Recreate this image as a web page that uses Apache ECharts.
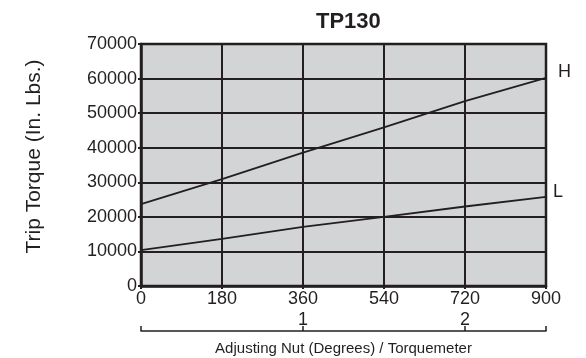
<!DOCTYPE html>
<html>
<head>
<meta charset="utf-8">
<script src="https://cdn.jsdelivr.net/npm/echarts@6.0.0/dist/echarts.min.js"></script>
<style>
  html, body { margin: 0; padding: 0; background: #fff; }
  #chart { width: 586px; height: 358px; }
</style>
</head>
<body>
<div id="chart"></div>
<script>
// x positions (degrees of the adjusting nut)
var degrees = [0, 180, 360, 540, 720, 900];
// trip torque, in. lbs.
var highSetting = [23700, 30900, 38550, 45900, 53500, 60200];
var lowSetting = [10400, 13600, 17100, 20000, 23000, 25800];
// torquemeter marks on the lower scale
var meterTicks = [360, 720];
var meterLabels = ['1', '2'];

var ink = '#231f20';
var font = '"Liberation Sans", Arial, Helvetica, sans-serif';

function pairs(xs, ys) {
	var out = [];
	for (var i = 0; i < xs.length; i++) out.push([xs[i], ys[i]]);
	return out;
}

var myChart = echarts.init(document.getElementById('chart'));
var option = {
	animation: false,
	textStyle: { fontFamily: font, color: ink },
	title: {
		text: 'TP130',
		left: 311,
		top: 6,
		textStyle: { fontFamily: font, fontSize: 22, fontWeight: 'bold', color: ink }
	},
	grid: {
		left: 141, right: 40, top: 44, bottom: 72,
		show: true,
		backgroundColor: '#d3d4d6',
		borderColor: ink,
		borderWidth: 2.5,
		outerBoundsMode: 'none'
	},
	xAxis: [{
		type: 'value',
		min: 0, max: 900, interval: 180,
		axisLine: { show: true, lineStyle: { color: ink, width: 2.5 } },
		axisTick: { show: true, length: 3, lineStyle: { color: ink, width: 2 } },
		axisLabel: { color: ink, fontSize: 18, margin: 4, fontFamily: font },
		splitLine: { show: true, lineStyle: { color: ink, width: 2 } }
	}, {
		// bracket scale underneath: torquemeter turns
		type: 'value',
		position: 'bottom',
		offset: 45,
		min: 0, max: 900,
		axisLine: { show: true, lineStyle: { color: ink, width: 1.5 } },
		axisTick: {
			show: true, inside: true, length: 5,
			customValues: [0].concat(meterTicks).concat([900]),
			lineStyle: { color: ink, width: 1.5 }
		},
		axisLabel: {
			show: true, inside: true, margin: 2,
			customValues: meterTicks,
			formatter: function (v) { return meterLabels[meterTicks.indexOf(v)]; },
			color: ink, fontSize: 18, fontFamily: font
		},
		splitLine: { show: false },
		name: 'Adjusting Nut (Degrees) / Torquemeter',
		nameLocation: 'middle',
		nameGap: 10,
		nameTextStyle: { fontSize: 15, color: ink, fontFamily: font, verticalAlign: 'top' }
	}],
	yAxis: {
		type: 'value',
		min: 0, max: 70000, interval: 10000,
		name: 'Trip Torque (In. Lbs.)',
		nameLocation: 'middle',
		nameGap: 96,
		nameTextStyle: { fontSize: 21, color: ink, fontFamily: font, padding: [0, 0, 0, 17] },
		axisLine: { show: true, lineStyle: { color: ink, width: 2.5 } },
		axisTick: { show: true, length: 3, lineStyle: { color: ink, width: 2 } },
		axisLabel: {
			color: ink, fontSize: 18, margin: 4, fontFamily: font,
			formatter: function (v) { return String(v); }
		},
		splitLine: { show: true, lineStyle: { color: ink, width: 2 } }
	},
	series: [{
		name: 'H', type: 'line', xAxisIndex: 0,
		data: pairs(degrees, highSetting),
		symbol: 'none',
		lineStyle: { color: ink, width: 1.8 },
		endLabel: { show: true, formatter: 'H', color: ink, fontSize: 18, fontFamily: font, distance: 12, offset: [0, -6] }
	}, {
		name: 'L', type: 'line', xAxisIndex: 0,
		data: pairs(degrees, lowSetting),
		symbol: 'none',
		lineStyle: { color: ink, width: 1.8 },
		endLabel: { show: true, formatter: 'L', color: ink, fontSize: 18, fontFamily: font, distance: 7, offset: [0, -5] }
	}]
};
myChart.setOption(option);
</script>
</body>
</html>
